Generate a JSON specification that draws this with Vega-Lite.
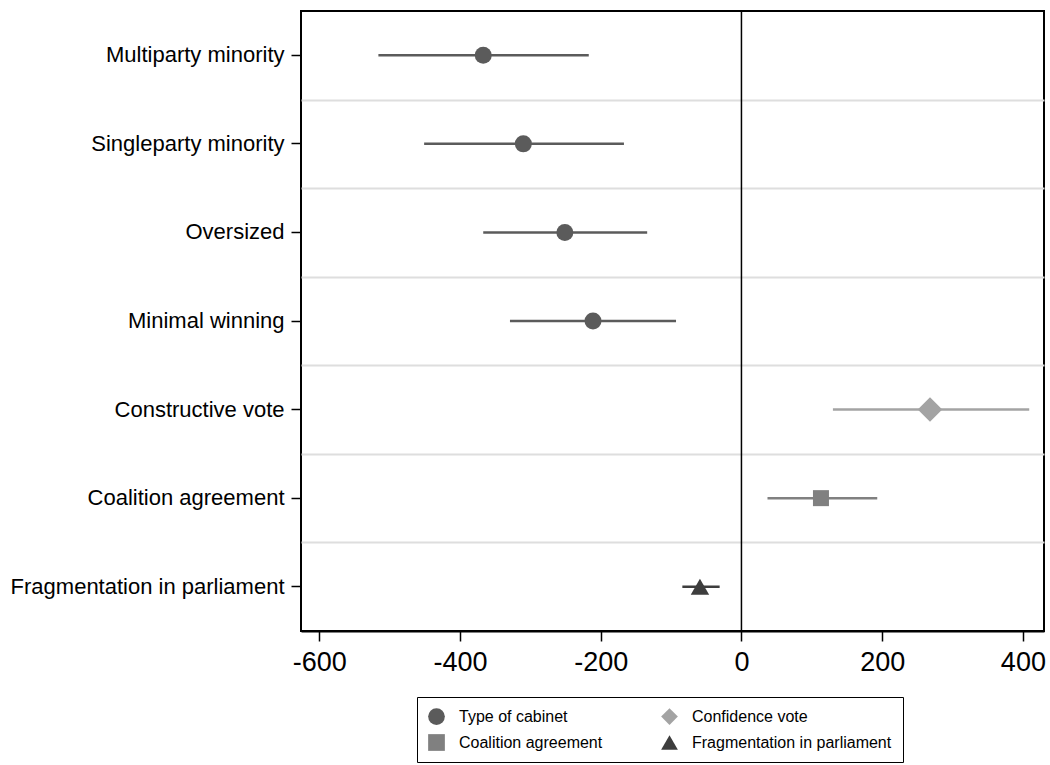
{
  "$schema": "https://vega.github.io/schema/vega-lite/v6.json",
  "width": 743,
  "height": 620,
  "autosize": {"type": "none"},
  "padding": {"left": 301, "top": 11, "right": 6, "bottom": 134},
  "background": "white",
  "config": {
    "font": "Liberation Sans",
    "view": {"stroke": "black", "strokeWidth": 2},
    "axis": {"labelColor": "black", "labelFont": "Liberation Sans"},
    "legend": {"labelFont": "Liberation Sans"}
  },
  "data": {
    "values": [
      {"label": "Multiparty minority", "group": "Type of cabinet", "est": -367, "lo": -516, "hi": -217},
      {"label": "Singleparty minority", "group": "Type of cabinet", "est": -310, "lo": -451, "hi": -167},
      {"label": "Oversized", "group": "Type of cabinet", "est": -251, "lo": -367, "hi": -134},
      {"label": "Minimal winning", "group": "Type of cabinet", "est": -211, "lo": -329, "hi": -93},
      {"label": "Constructive vote", "group": "Confidence vote", "est": 268, "lo": 130, "hi": 409},
      {"label": "Coalition agreement", "group": "Coalition agreement", "est": 113, "lo": 37, "hi": 193},
      {"label": "Fragmentation in parliament", "group": "Fragmentation in parliament", "est": -59, "lo": -84, "hi": -31}
    ]
  },
  "layer": [
    {
      "mark": {"type": "rule", "strokeWidth": 2.5},
      "encoding": {
        "y": {
          "field": "label", "type": "nominal", "sort": null,
          "scale": {"paddingInner": 0, "paddingOuter": 0},
          "axis": {
            "title": null, "orient": "left", "grid": false, "domain": false,
            "ticks": true, "tickSize": 10, "tickColor": "black", "tickWidth": 1.5,
            "labelFontSize": 22, "labelPadding": 7, "labelLimit": 400
          }
        },
        "x": {
          "field": "lo", "type": "quantitative",
          "scale": {"domain": [-626, 430], "nice": false, "zero": false},
          "axis": {
            "title": null, "values": [-600, -400, -200, 0, 200, 400], "grid": false,
            "labelExpr": "'' + datum.value",
            "domainColor": "black", "domainWidth": 2, "tickColor": "black", "tickWidth": 1.5,
            "tickSize": 10, "labelFontSize": 27, "labelPadding": 8
          }
        },
        "x2": {"field": "hi"},
        "stroke": {
          "field": "group", "type": "nominal",
          "scale": {
            "domain": ["Fragmentation in parliament", "Coalition agreement", "Confidence vote", "Type of cabinet"],
            "range": ["#3d3d3d", "#808080", "#a3a3a3", "#5b5b5b"]
          },
          "legend": null
        }
      }
    },
    {
      "mark": {"type": "point", "filled": true, "opacity": 1},
      "encoding": {
        "y": {
          "field": "label", "type": "nominal", "sort": null,
          "axis": {
            "title": null, "orient": "right", "grid": true, "tickBand": "extent",
            "labels": false, "ticks": false, "domain": false,
            "gridColor": "#dedede", "gridWidth": 2,
            "gridOpacity": {"condition": {"test": "datum.extra || datum.value === 'Fragmentation in parliament'", "value": 0}, "value": 1}
          }
        },
        "x": {"field": "est", "type": "quantitative"},
        "size": {
          "field": "group", "type": "nominal",
          "scale": {
            "type": "ordinal",
            "domain": ["Fragmentation in parliament", "Coalition agreement", "Confidence vote", "Type of cabinet"],
            "range": [340, 256, 600, 290]
          },
          "legend": null
        },
        "color": {
          "field": "group", "type": "nominal",
          "scale": {
            "domain": ["Type of cabinet", "Confidence vote", "Coalition agreement", "Fragmentation in parliament"],
            "range": ["#5b5b5b", "#a3a3a3", "#808080", "#3d3d3d"]
          },
          "legend": {
            "title": null, "orient": "none", "legendX": 116, "legendY": 686,
            "columns": 2, "direction": "horizontal",
            "labelFontSize": 16, "labelColor": "black", "labelLimit": 400,
            "symbolSize": 280, "symbolStrokeWidth": 0, "labelOffset": 14,
            "columnPadding": 58, "rowPadding": 9, "padding": 11,
            "strokeColor": "black", "fillColor": "white"
          }
        },
        "shape": {
          "field": "group", "type": "nominal",
          "scale": {
            "domain": ["Type of cabinet", "Confidence vote", "Coalition agreement", "Fragmentation in parliament"],
            "range": ["circle", "diamond", "square", "triangle-up"]
          },
          "legend": {
            "title": null, "orient": "none", "legendX": 116, "legendY": 686,
            "columns": 2, "direction": "horizontal",
            "labelFontSize": 16, "labelColor": "black", "labelLimit": 400,
            "symbolSize": 280, "symbolStrokeWidth": 0, "labelOffset": 14,
            "columnPadding": 58, "rowPadding": 9, "padding": 11,
            "strokeColor": "black", "fillColor": "white"
          }
        }
      }
    },
    {
      "data": {"values": [{"zero": 0}]},
      "mark": {"type": "rule", "color": "black", "strokeWidth": 1.5},
      "encoding": {"x": {"field": "zero", "type": "quantitative"}}
    }
  ],
  "resolve": {"axis": {"y": "independent"}}
}
